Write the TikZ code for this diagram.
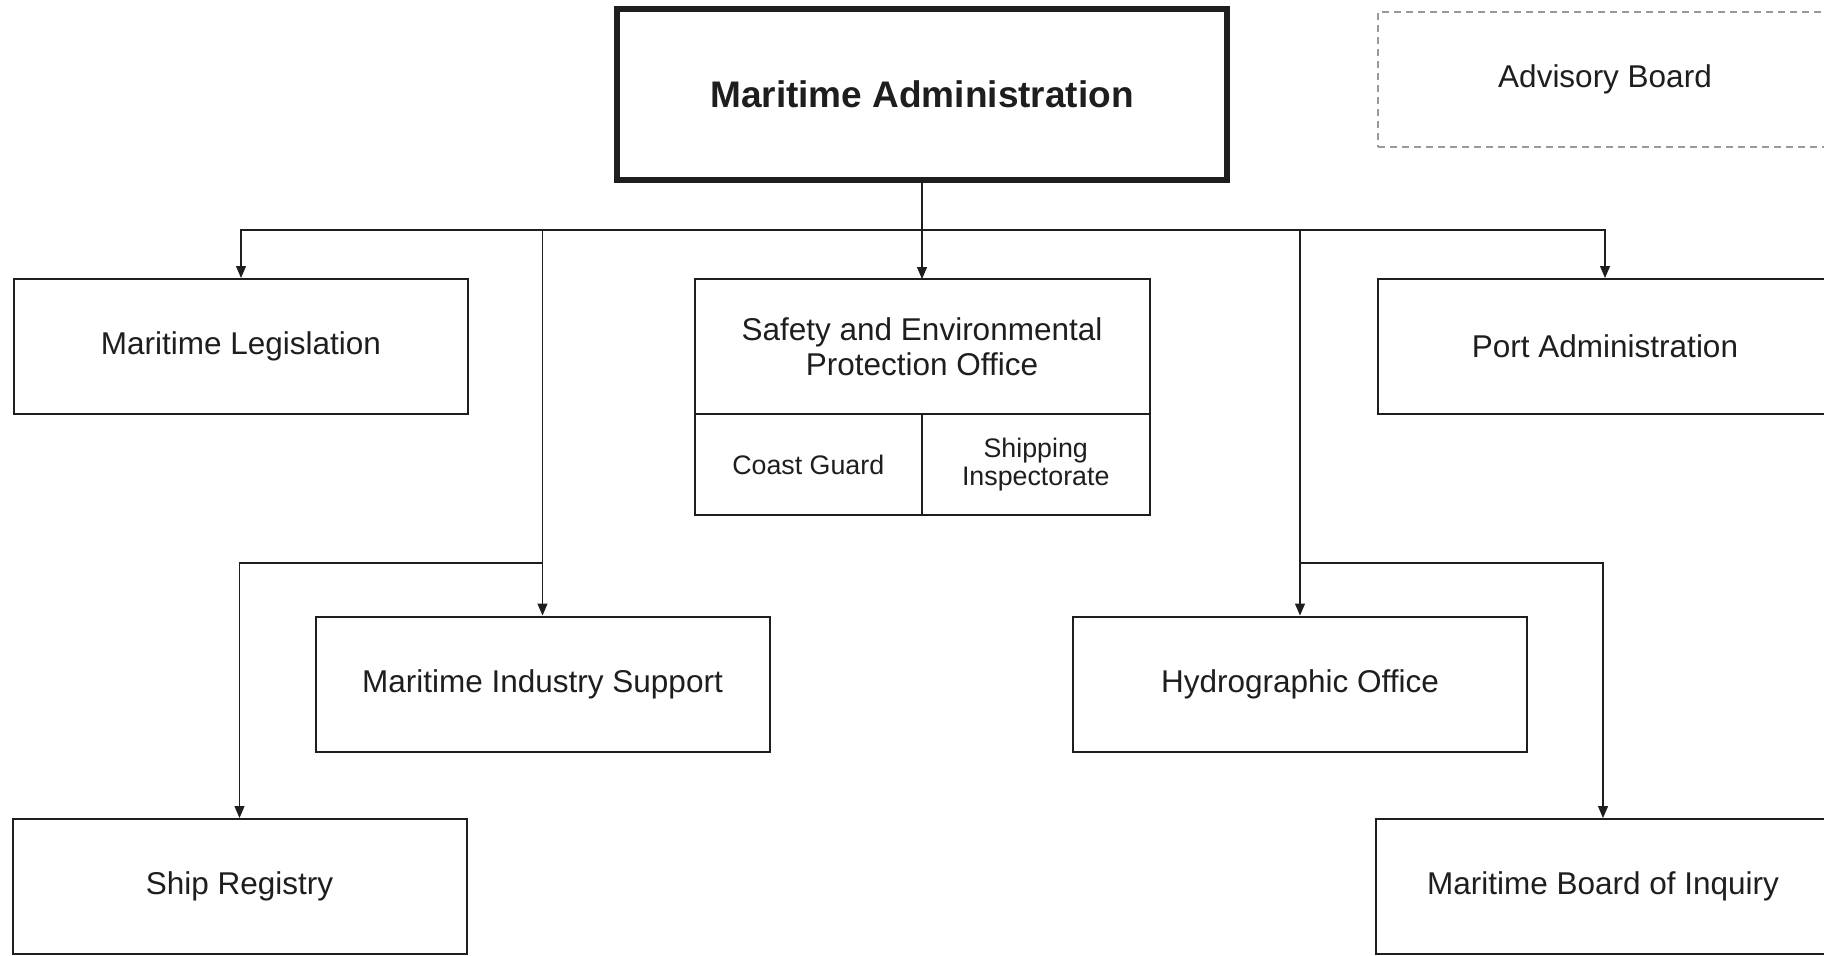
\documentclass[tikz,border=0pt]{standalone}
\usepackage{fontspec}
\setmainfont{Liberation Sans}
\usepackage{tikz}
\usetikzlibrary{arrows.meta}
\definecolor{inkgray}{RGB}{30,30,30}
\tikzset{
  unitbox/.style={draw=inkgray, line width=1pt, fill=white,
    minimum width=227pt, minimum height=67.5pt, inner sep=0pt,
    align=center, text=inkgray, font=\fontsize{15.75}{17.5}\selectfont},
  headbox/.style={draw=inkgray, line width=3pt, fill=white,
    minimum width=305pt, minimum height=85.5pt, inner sep=0pt,
    align=center, text=inkgray, font=\bfseries\fontsize{18.5}{22}\selectfont},
  advbox/.style={unitbox, draw=gray!80, line width=0.6pt,
    dash pattern=on 3.5pt off 2.5pt},
  subbox/.style={draw=inkgray, line width=1pt, fill=white, outer sep=0pt,
    minimum width=113.75pt, minimum height=50.5pt, inner sep=0pt,
    align=center, text=inkgray, font=\fontsize{13.4}{14}\selectfont},
  link/.style={draw=inkgray, line width=0.6pt},
  arr/.style={link, -{Triangle[length=6pt, width=5pt]}},
}

\begin{document}
\begin{tikzpicture}[x=0.5pt, y=-0.5pt]
  \useasboundingbox (0,0) rectangle (1824,955);
  \clip (0,0) rectangle (1824,955);
  \fill[white] (0,0) rectangle (1824,955);

  % Head
  \node[headbox] (ma) at (922,94.5) {Maritime Administration};
  \node[advbox] (adv) at (1605,79.5) {Advisory Board};

  % First row
  \node[unitbox] (ml) at (241,346.5) {Maritime Legislation};
  \node[unitbox, minimum width=227.5pt, outer sep=0pt] (sepo) at (922,346.5)
    {Safety and Environmental\\Protection Office};
  \node[subbox, anchor=north west] (cg) at (sepo.south west) {Coast Guard};
  \node[subbox, anchor=north east] (si) at (sepo.south east)
    {Shipping\\Inspectorate};
  \node[unitbox] (pa) at (1605,346.5) {Port Administration};

  % Second row
  \node[unitbox] (mis) at (542.5,684) {Maritime Industry Support};
  \node[unitbox] (ho) at (1300,684) {Hydrographic Office};

  % Third row
  \node[unitbox] (sr) at (239.5,886.5) {Ship Registry};
  \node[unitbox] (mbi) at (1603,886.5) {Maritime Board of Inquiry};

  % Junctions
  \coordinate (bus) at (0,230);
  \coordinate (fork) at (0,563);

  % Arrows
  \draw[arr] (ma.south) -- (sepo.north);
  \draw[arr] (ma.south |- bus) -| (ml.north);
  \draw[arr] (ma.south |- bus) -| (pa.north);
  \foreach \b in {mis, ho} {
    \draw[arr] (\b.north |- bus) -- (\b.north);
  }
  \draw[arr] (mis.north |- fork) -| (sr.north);
  \draw[arr] (ho.north |- fork) -| (mbi.north);
\end{tikzpicture}
\end{document}
